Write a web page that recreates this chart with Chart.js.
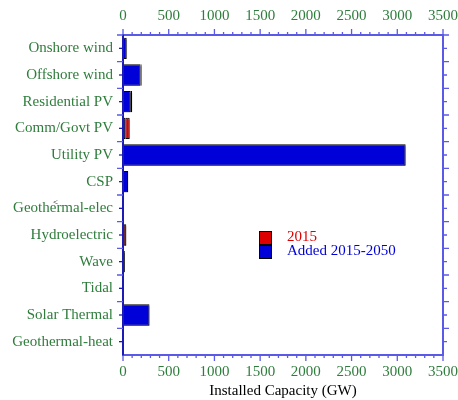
<!DOCTYPE html>
<html>
<head>
<meta charset="utf-8">
<script src="https://cdn.jsdelivr.net/npm/chart.js@4/dist/chart.umd.min.js"></script>
<style>
  html, body { margin: 0; padding: 0; background: #fff; }
  #wrap { width: 458px; height: 400px; position: relative; }
</style>
</head>
<body>
<div id="wrap"><canvas id="c"></canvas></div>
<script>
// data (GW)
const CATEGORIES = ['Onshore wind', 'Offshore wind', 'Residential PV', 'Comm/Govt PV', 'Utility PV', 'CSP',
  'Geothermal-elec', 'Hydroelectric', 'Wave', 'Tidal', 'Solar Thermal', 'Geothermal-heat'];
const ADDED = [40, 192, 85, 25, 3090, 55, 3, 8, 20, 2, 290, 2];
const Y2015 = [5, 12, 15, 48, 6, 3, 2, 28, 2, 1, 0, 0];
const X_TICKS = [0, 500, 1000, 1500, 2000, 2500, 3000, 3500];

const GREEN = '#2f7d3c', BLUE = '#0000d8', RED = '#dd0000';
const AXIS_DARK = '#1c1cb4', AXIS_LIGHT = '#5a5ae6';
const FONT = { family: '"Liberation Serif", "Times New Roman", serif', size: 15 };

// 軸線 + 主/次刻度,全部用 scale 換算像素
const axesPlugin = {
  id: 'axes',
  afterDraw(chart) {
    const { ctx, chartArea: a, scales } = chart;
    ctx.save();
    ctx.lineWidth = 2;
    // frame
    ctx.strokeStyle = AXIS_LIGHT;
    ctx.beginPath();
    ctx.moveTo(a.left, a.top); ctx.lineTo(a.right, a.top); ctx.lineTo(a.right, a.bottom); ctx.lineTo(a.left, a.bottom);
    ctx.stroke();
    ctx.strokeStyle = AXIS_DARK;
    ctx.beginPath(); ctx.moveTo(a.left, a.top - 1); ctx.lineTo(a.left, a.bottom + 1); ctx.stroke();

    // x ticks, every 100, long every 500
    ctx.lineWidth = 1.3;
    ctx.strokeStyle = AXIS_LIGHT;
    for (let v = 0; v <= 3500; v += 100) {
      const len = v % 500 === 0 ? 6 : 3;
      const xt = scales.xTop.getPixelForValue(v);
      const xb = scales.x.getPixelForValue(v);
      ctx.beginPath();
      ctx.moveTo(xt, a.top); ctx.lineTo(xt, a.top - len);
      ctx.moveTo(xb, a.bottom); ctx.lineTo(xb, a.bottom + len);
      ctx.stroke();
    }
    // y ticks: row centres + row boundaries
    const y = scales.y;
    const half = (y.getPixelForValue(1) - y.getPixelForValue(0)) / 2;
    CATEGORIES.forEach((c, i) => {
      const py = y.getPixelForValue(i);
      ctx.strokeStyle = AXIS_DARK;
      ctx.beginPath();
      ctx.moveTo(a.left, py); ctx.lineTo(a.left - 4, py);
      ctx.stroke();
      ctx.strokeStyle = AXIS_LIGHT;
      ctx.beginPath();
      ctx.moveTo(a.left, py - half); ctx.lineTo(a.left - 6, py - half);
      ctx.moveTo(a.right, py); ctx.lineTo(a.right + 4, py);
      ctx.moveTo(a.right, py - half); ctx.lineTo(a.right + 6, py - half);
      ctx.stroke();
    });
    ctx.restore();
  },
};

// 圖例:兩個小方塊 + 彩色文字
const legendPlugin = {
  id: 'boxLegend',
  afterDraw(chart) {
    const { ctx } = chart;
    const items = [chart.data.datasets[1], chart.data.datasets[0]];
    ctx.save();
    ctx.font = `${FONT.size}px ${FONT.family}`;
    ctx.textBaseline = 'middle';
    items.forEach((ds, i) => {
      const y0 = 231 + i * 14;
      ctx.fillStyle = ds.backgroundColor;
      ctx.fillRect(259, y0, 13, 13);
      ctx.strokeStyle = '#000';
      ctx.lineWidth = 1;
      ctx.strokeRect(259.5, y0 + 0.5, 12, 13);
      ctx.fillStyle = ds.backgroundColor;
      ctx.fillText(ds.label, 287, y0 + 6);
    });
    // stray mark near Geothermal-elec
    ctx.fillStyle = '#000';
    ctx.font = `9px ${FONT.family}`;
    ctx.fillText('<', 53, 203);
    ctx.restore();
  },
};

// 淡灰陰影
const shadowPlugin = {
  id: 'shadow',
  beforeDatasetsDraw(chart) {
    const ctx = chart.ctx;
    ctx.save();
    ctx.shadowColor = 'rgba(0,0,0,0.35)';
    ctx.shadowOffsetX = 1;
    ctx.shadowOffsetY = 2;
    ctx.shadowBlur = 0;
  },
  afterDatasetsDraw(chart) { chart.ctx.restore(); },
};

const xTickCfg = {
  color: GREEN, font: FONT,
  callback: (v) => (X_TICKS.includes(v) ? String(v) : ''),
  stepSize: 500, autoSkip: false, maxRotation: 0,
};
// 固定高度,並去掉最後一個刻度標籤的外溢留白
const fitX = (h) => (s) => { s.height = h; s.paddingLeft = 0; s.paddingRight = 0; };

new Chart(document.getElementById('c'), {
  type: 'bar',
  data: {
    labels: CATEGORIES,
    datasets: [
      { label: 'Added 2015-2050', data: ADDED, backgroundColor: BLUE, borderColor: '#000', borderWidth: 1,
        borderSkipped: false, barPercentage: 0.8, categoryPercentage: 1 },
      { label: '2015', data: Y2015, backgroundColor: RED, borderColor: '#000', borderWidth: 1,
        borderSkipped: false, barPercentage: 0.8, categoryPercentage: 1 },
    ],
  },
  options: {
    indexAxis: 'y',
    responsive: true, maintainAspectRatio: false, animation: false,
    layout: { padding: 0 },
    plugins: { legend: { display: false }, tooltip: { enabled: false } },
    scales: {
      x: {
        type: 'linear', position: 'bottom', stacked: true, min: 0, max: 3500,
        grid: { display: false, drawTicks: false }, border: { display: false },
        ticks: { ...xTickCfg, padding: 8 },
        title: { display: true, text: 'Installed Capacity (GW)', color: '#000', font: FONT, padding: { top: 4, bottom: 0 } },
        afterFit: fitX(45),
      },
      xTop: {
        type: 'linear', position: 'top', min: 0, max: 3500,
        grid: { display: false, drawTicks: false }, border: { display: false },
        ticks: { ...xTickCfg, padding: 10 },
        afterFit: fitX(35),
      },
      y: {
        type: 'category', position: 'left', stacked: true,
        grid: { display: false, drawTicks: false }, border: { display: false },
        ticks: { color: GREEN, font: FONT, padding: 10, autoSkip: false },
        afterFit: (s) => { s.width = 123; },
      },
      yRight: {
        type: 'category', position: 'right', labels: CATEGORIES,
        grid: { display: false, drawTicks: false }, border: { display: false },
        ticks: { display: false },
        afterFit: (s) => { s.width = 15; },
      },
    },
  },
  plugins: [shadowPlugin, axesPlugin, legendPlugin],
});
</script>
</body>
</html>
